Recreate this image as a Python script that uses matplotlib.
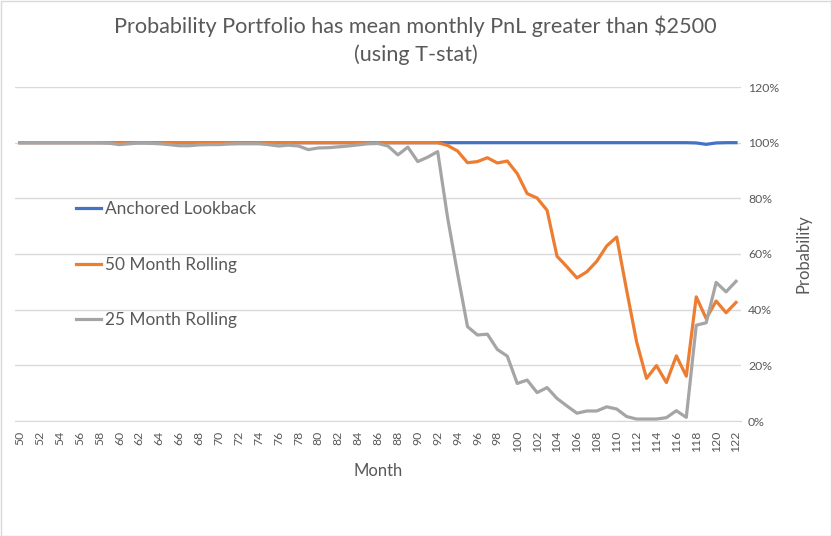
import matplotlib
matplotlib.use("Agg")
import matplotlib.pyplot as plt
from matplotlib.patches import Rectangle

months = list(range(50, 123))

anchored = [100.0] * 68 + [99.9, 99.4, 99.9, 100.0, 100.0]

rolling50 = [100.0] * 42 + [
    100.0, 99.0, 97.0, 92.8, 93.2, 94.6, 92.7, 93.4, 88.9, 81.7,   # 92-101
    80.1, 75.7, 59.2, 55.4, 51.4, 53.6, 57.4, 62.9, 66.1, 47.0,    # 102-111
    28.5, 15.3, 19.9, 13.8, 23.4, 16.1, 44.6, 36.8, 43.1, 38.9,    # 112-121
    42.6]                                                          # 122

rolling25 = [
    100.0, 100.0, 100.0, 100.0, 100.0, 100.0, 100.0, 100.0, 100.0, 99.8,  # 50-59
    99.3, 99.6, 99.9, 99.8, 99.6, 99.3, 98.9, 98.9, 99.2, 99.3,           # 60-69
    99.3, 99.5, 99.6, 99.6, 99.6, 99.3, 98.8, 99.1, 98.8, 97.5,           # 70-79
    98.1, 98.2, 98.5, 98.8, 99.2, 99.6, 99.7, 98.8, 95.6, 98.4,           # 80-89
    93.2, 94.8, 96.8, 73.0, 53.0, 33.9, 30.9, 31.2, 25.7, 23.3,           # 90-99
    13.5, 14.7, 10.2, 12.0, 8.1, 5.4, 2.8, 3.6, 3.6, 5.1,                 # 100-109
    4.3, 1.6, 0.7, 0.7, 0.7, 1.2, 3.7, 1.3, 34.4, 35.3,                   # 110-119
    49.8, 46.4, 50.2]                                                     # 120-122

series_names = ["Anchored Lookback", "50 Month Rolling", "25 Month Rolling"]
series_colors = ["#4472C4", "#ED7D31", "#A5A5A5"]
yticks = [0, 20, 40, 60, 80, 100, 120]
xticks = list(range(50, 123, 2))

title = "Probability Portfolio has mean monthly PnL greater than $2500\n(using T-stat)"

plt.rcParams['font.family'] = ['Lato', 'DejaVu Sans']
txt = "#595959"

fig = plt.figure(figsize=(8.31, 5.36), dpi=100)
ax = fig.add_axes([15/831, 1-421/536, (741-15)/831, (421-87)/536])

for vals, name, col in zip([anchored, rolling50, rolling25], series_names, series_colors):
    ax.plot(months, vals, color=col, lw=2.3, label=name, solid_joinstyle='round')

ax.set_xlim(49.5, 122.5)
ax.set_ylim(0, 120)
ax.set_yticks(yticks)
ax.set_yticklabels([f"{v}%" for v in yticks])
ax.set_xticks(xticks)
ax.set_xticklabels([str(v) for v in xticks], rotation=90)
ax.yaxis.tick_right()
ax.yaxis.set_label_position("right")
ax.tick_params(axis='both', length=0, colors=txt, labelsize=8.8)
ax.tick_params(axis='x', pad=7)
ax.tick_params(axis='y', pad=5)
ax.grid(axis='y', color="#D9D9D9", lw=1)
ax.set_axisbelow(True)
for s in ['top', 'left', 'right']:
    ax.spines[s].set_visible(False)
ax.spines['bottom'].set_color("#D9D9D9")

ax.set_xlabel("Month", color=txt, fontsize=12, labelpad=8)
ax.set_ylabel("Probability", color=txt, fontsize=12, labelpad=12)

fig.text(0.5, 1 - 40/536, title, ha='center', va='center', fontsize=15.6,
         color=txt, linespacing=1.42)

leg = ax.legend(loc='upper left', bbox_to_anchor=(45/726, (421-186)/334),
                frameon=False, fontsize=12.4, labelspacing=2.27,
                handlelength=1.5, handletextpad=0.2)
for t in leg.get_texts():
    t.set_color(txt)

fig.add_artist(Rectangle((0.5/831, 0.5/536), 1-1/831, 1-1/536, transform=fig.transFigure,
                         fill=False, edgecolor="#D9D9D9", lw=1))

fig.savefig("out.png", dpi=100)
